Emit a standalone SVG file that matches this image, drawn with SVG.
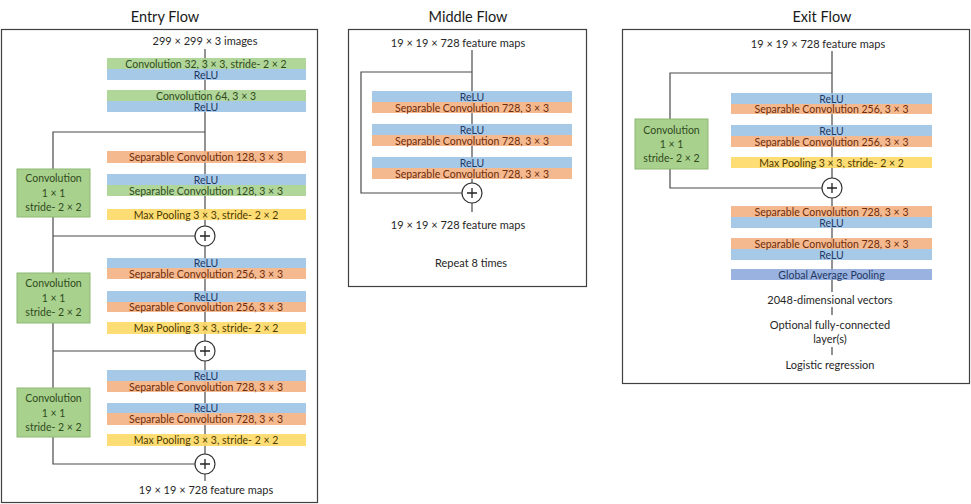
<svg xmlns="http://www.w3.org/2000/svg" width="971" height="504" viewBox="0 0 971 504">
<style>
text{font-family:Lato,"Liberation Sans",sans-serif;font-size:11px;text-anchor:middle;fill:#262626}
.title{font-size:14.5px;fill:#1a1a1a}
.frame{fill:#fff;stroke:#404040;stroke-width:1.2}
.bar rect{opacity:0.9}
.bar text{font-size:10.5px}
.g{fill:#A9D18E}.b{fill:#9DC3E6}.o{fill:#F4B183}.y{fill:#FFD966}.p{fill:#8FAADC}
.tg{fill:#2F4B1C}.tb{fill:#1F3864}.to{fill:#6E2C0A}.ty{fill:#4D3A00}.tp{fill:#1F3864}
.conv rect{fill:#A9D18E;stroke:#8DB873;stroke-width:1}
.conv text{font-size:10.5px}
.ln{fill:none;stroke:#4a4a4a;stroke-width:1.2}
.add{fill:#fff;stroke:#333;stroke-width:1.2}
.plus{fill:none;stroke:#222;stroke-width:1.3}
</style>
<rect width="971" height="504" fill="#fff"/>
<g id="frames">
<rect class="frame" x="1.5" y="29.5" width="316" height="473"/>
<rect class="frame" x="348.5" y="29.5" width="238" height="257"/>
<rect class="frame" x="622.5" y="29.5" width="347" height="354"/>
<text class="title" x="165" y="22">Entry Flow</text>
<text class="title" x="468" y="22">Middle Flow</text>
<text class="title" x="822" y="22">Exit Flow</text>
</g>
<g id="connectors">
<path class="ln" d="M205 49V481"/>
<path class="ln" d="M205 132H53V464H195M53 236H195M53 351H195"/>
<path class="ln" d="M472 50V212"/>
<path class="ln" d="M472 72H361V193H462"/>
<path class="ln" d="M832 51V292M832 307V315M832 347V355"/>
<path class="ln" d="M832 73H670V188H822"/>
</g>
<g id="entry-nodes">
<text x="205" y="45">299 × 299 × 3 images</text>
<g id="e1" class="bar"><rect class="g" x="107" y="58" width="199" height="11"/><rect class="b" x="107" y="69" width="199" height="11"/>
<text class="tg" x="206" y="67.5">Convolution 32, 3 × 3, stride- 2 × 2</text><text class="tb" x="206" y="78.5">ReLU</text></g>
<g id="e2" class="bar"><rect class="g" x="107" y="90" width="199" height="11"/><rect class="b" x="107" y="101" width="199" height="11"/>
<text class="tg" x="206" y="99.5">Convolution 64, 3 × 3</text><text class="tb" x="206" y="110.5">ReLU</text></g>
<g id="e3" class="bar"><rect class="o" x="107" y="151" width="199" height="12"/>
<text class="to" x="206" y="161">Separable Convolution 128, 3 × 3</text></g>
<g id="e4" class="bar"><rect class="b" x="107" y="174" width="199" height="11"/><rect class="g" x="107" y="185" width="199" height="11"/>
<text class="tb" x="206" y="183.5">ReLU</text><text class="tg" x="206" y="194.5">Separable Convolution 128, 3 × 3</text></g>
<g id="e5" class="bar"><rect class="y" x="107" y="209" width="199" height="11"/>
<text class="ty" x="206" y="218.5">Max Pooling 3 × 3, stride- 2 × 2</text></g>
<g id="e6" class="bar"><rect class="b" x="107" y="258" width="199" height="10"/><rect class="o" x="107" y="268" width="199" height="11"/>
<text class="tb" x="206" y="267">ReLU</text><text class="to" x="206" y="277.5">Separable Convolution 256, 3 × 3</text></g>
<g id="e7" class="bar"><rect class="b" x="107" y="291" width="199" height="11"/><rect class="o" x="107" y="302" width="199" height="10"/>
<text class="tb" x="206" y="300.5">ReLU</text><text class="to" x="206" y="311">Separable Convolution 256, 3 × 3</text></g>
<g id="e8" class="bar"><rect class="y" x="107" y="322" width="199" height="12"/>
<text class="ty" x="206" y="332">Max Pooling 3 × 3, stride- 2 × 2</text></g>
<g id="e9" class="bar"><rect class="b" x="107" y="370" width="199" height="11"/><rect class="o" x="107" y="381" width="199" height="11"/>
<text class="tb" x="206" y="379.5">ReLU</text><text class="to" x="206" y="390.5">Separable Convolution 728, 3 × 3</text></g>
<g id="e10" class="bar"><rect class="b" x="107" y="403" width="199" height="10"/><rect class="o" x="107" y="413" width="199" height="12"/>
<text class="tb" x="206" y="412">ReLU</text><text class="to" x="206" y="423">Separable Convolution 728, 3 × 3</text></g>
<g id="e11" class="bar"><rect class="y" x="107" y="434" width="199" height="12"/>
<text class="ty" x="206" y="444">Max Pooling 3 × 3, stride- 2 × 2</text></g>
<text x="206" y="494">19 × 19 × 728 feature maps</text>
</g>
<g id="middle-nodes">
<text x="458" y="47">19 × 19 × 728 feature maps</text>
<g id="m1" class="bar"><rect class="b" x="372" y="91" width="200" height="11"/><rect class="o" x="372" y="102" width="200" height="11"/>
<text class="tb" x="472" y="100.5">ReLU</text><text class="to" x="472" y="111.5">Separable Convolution 728, 3 × 3</text></g>
<g id="m2" class="bar"><rect class="b" x="372" y="124" width="200" height="11"/><rect class="o" x="372" y="135" width="200" height="11"/>
<text class="tb" x="472" y="133.5">ReLU</text><text class="to" x="472" y="144.5">Separable Convolution 728, 3 × 3</text></g>
<g id="m3" class="bar"><rect class="b" x="372" y="157" width="200" height="11"/><rect class="o" x="372" y="168" width="200" height="11"/>
<text class="tb" x="472" y="166.5">ReLU</text><text class="to" x="472" y="177.5">Separable Convolution 728, 3 × 3</text></g>
<text x="458" y="229">19 × 19 × 728 feature maps</text>
<text x="471" y="267">Repeat 8 times</text>
</g>
<g id="exit-nodes">
<text x="818" y="48">19 × 19 × 728 feature maps</text>
<g id="x1" class="bar"><rect class="b" x="731" y="93" width="201" height="11"/><rect class="o" x="731" y="104" width="201" height="10"/>
<text class="tb" x="831.5" y="102.5">ReLU</text><text class="to" x="831.5" y="113">Separable Convolution 256, 3 × 3</text></g>
<g id="x2" class="bar"><rect class="b" x="731" y="125" width="201" height="11"/><rect class="o" x="731" y="136" width="201" height="11"/>
<text class="tb" x="831.5" y="134.5">ReLU</text><text class="to" x="831.5" y="145.5">Separable Convolution 256, 3 × 3</text></g>
<g id="x3" class="bar"><rect class="y" x="731" y="157" width="201" height="11"/>
<text class="ty" x="831.5" y="166.5">Max Pooling 3 × 3, stride- 2 × 2</text></g>
<g id="x4" class="bar"><rect class="o" x="731" y="206" width="201" height="11"/><rect class="b" x="731" y="217" width="201" height="11"/>
<text class="to" x="831.5" y="215.5">Separable Convolution 728, 3 × 3</text><text class="tb" x="831.5" y="226.5">ReLU</text></g>
<g id="x5" class="bar"><rect class="o" x="731" y="238" width="201" height="11"/><rect class="b" x="731" y="249" width="201" height="11"/>
<text class="to" x="831.5" y="247.5">Separable Convolution 728, 3 × 3</text><text class="tb" x="831.5" y="258.5">ReLU</text></g>
<g id="x6" class="bar"><rect class="p" x="731" y="269" width="201" height="11"/>
<text class="tp" x="831.5" y="278.5">Global Average Pooling</text></g>
<text x="830" y="304">2048-dimensional vectors</text>
<text x="830" y="329">Optional fully-connected</text>
<text x="830" y="343">layer(s)</text>
<text x="830" y="369">Logistic regression</text>
</g>
<g id="convs">
<g id="c1" class="conv"><rect x="17" y="169" width="73" height="48"/>
<text class="tg" x="53.5" y="182">Convolution</text><text class="tg" x="53.5" y="197">1 × 1</text><text class="tg" x="53.5" y="211">stride- 2 × 2</text></g>
<g id="c2" class="conv"><rect x="17" y="273" width="73" height="50"/>
<text class="tg" x="53.5" y="287">Convolution</text><text class="tg" x="53.5" y="301.5">1 × 1</text><text class="tg" x="53.5" y="316">stride- 2 × 2</text></g>
<g id="c3" class="conv"><rect x="17" y="388" width="73" height="49"/>
<text class="tg" x="53.5" y="402">Convolution</text><text class="tg" x="53.5" y="416.5">1 × 1</text><text class="tg" x="53.5" y="431">stride- 2 × 2</text></g>
<g id="c4" class="conv"><rect x="635" y="119" width="73" height="50"/>
<text class="tg" x="671.5" y="134">Convolution</text><text class="tg" x="671.5" y="148">1 × 1</text><text class="tg" x="671.5" y="162">stride- 2 × 2</text></g>
</g>
<g id="adds">
<g id="a1"><circle class="add" cx="205" cy="236" r="10"/><path class="plus" d="M200 236H210M205 231V241"/></g>
<g id="a2"><circle class="add" cx="205" cy="351" r="10"/><path class="plus" d="M200 351H210M205 346V356"/></g>
<g id="a3"><circle class="add" cx="205" cy="464" r="10"/><path class="plus" d="M200 464H210M205 459V469"/></g>
<g id="a4"><circle class="add" cx="472" cy="193" r="10"/><path class="plus" d="M467 193H477M472 188V198"/></g>
<g id="a5"><circle class="add" cx="832" cy="188" r="10"/><path class="plus" d="M827 188H837M832 183V193"/></g>
</g>
</svg>
